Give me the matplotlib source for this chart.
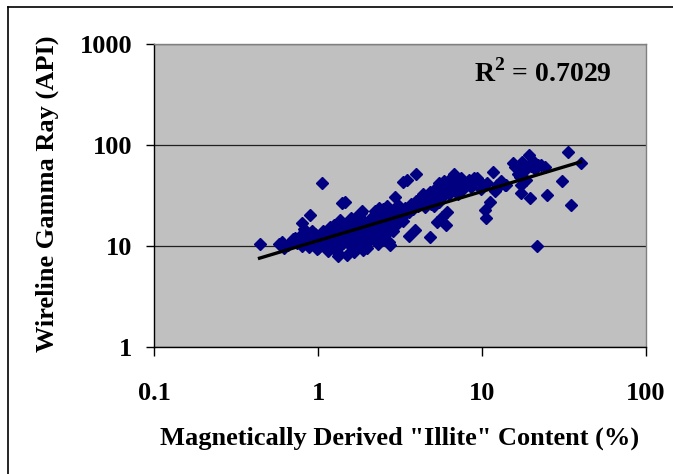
import numpy as np
import matplotlib
matplotlib.use("Agg")
import matplotlib.pyplot as plt
from matplotlib.lines import Line2D

plt.rcParams['font.family'] = ['Liberation Serif', 'DejaVu Serif']
plt.rcParams['mathtext.fontset'] = 'custom'
plt.rcParams['mathtext.rm'] = 'Liberation Serif:bold'
plt.rcParams['mathtext.bf'] = 'Liberation Serif:bold'

# ---- data ----
illite_low = [0.44, 0.58, 0.60, 0.60, 0.62, 0.66, 0.70, 0.72, 0.74, 0.76, 0.78, 0.80, 0.80,
              0.82, 0.84, 0.86, 0.88, 0.89, 0.90, 0.92, 0.94, 0.96, 0.98, 0.99, 1.06]
gr_low = [10.4, 10.5, 11.0, 10.8, 9.6, 10.2, 11.8, 11.9, 10.8, 11.4, 12.6, 16.8, 10.0,
          14.8, 13.5, 11.2, 9.8, 20.3, 12.5, 14.0, 10.6, 13.2, 9.4, 11.8, 42.4]

illite_b = [1.00, 1.02, 1.05, 1.08, 1.10, 1.12, 1.15, 1.18, 1.20, 1.22, 1.25, 1.28, 1.30,
            1.32, 1.35, 1.38, 1.40, 1.42, 1.45, 1.48, 1.50, 1.52, 1.55, 1.58, 1.60, 1.62,
            1.65, 1.68, 1.70, 1.72, 1.75, 1.78, 1.80, 1.82, 1.85, 1.88, 1.90, 1.92, 1.95,
            1.98, 1.33, 1.40, 1.47, 1.36, 1.20, 1.15, 1.25, 1.10, 1.55, 1.65, 1.70, 1.75,
            1.85, 1.60, 1.90, 1.95, 1.50, 1.30, 1.05, 1.12, 1.22, 1.38, 1.44, 1.58, 1.66,
            1.78, 1.88, 1.02, 1.28, 1.52]
gr_b = [9.5, 12.0, 10.5, 14.0, 11.0, 13.0, 9.0, 15.5, 12.5, 10.0, 16.0, 11.5, 13.5,
        8.5, 12.0, 17.0, 14.5, 10.8, 11.8, 13.0, 8.2, 15.0, 12.2, 18.0, 14.0, 9.8,
        16.5, 11.0, 19.5, 13.2, 10.2, 15.8, 12.8, 21.0, 14.2, 9.2, 17.5, 13.8, 11.2,
        16.2, 8.0, 26.5, 27.5, 18.1, 15.0, 13.8, 11.5, 9.8, 10.5, 8.8, 9.5, 20.0,
        22.0, 19.0, 11.0, 14.5, 12.8, 16.5, 13.0, 11.0, 12.2, 10.2, 15.0, 11.2, 13.0,
        12.0, 15.5, 11.5, 9.4, 14.2]

illite_c = [2.00, 2.02, 2.05, 2.08, 2.10, 2.12, 2.15, 2.18, 2.20, 2.22, 2.25, 2.28, 2.30,
            2.32, 2.35, 2.38, 2.40, 2.42, 2.45, 2.48, 2.50, 2.52, 2.55, 2.58, 2.60, 2.62,
            2.65, 2.68, 2.70, 2.72, 2.75, 2.78, 2.80, 2.85, 2.90, 2.95, 2.95, 3.00, 3.05,
            3.10, 3.15, 3.20, 3.30, 3.30, 3.40, 3.45, 2.05, 2.15, 2.25, 2.35, 2.45, 2.55,
            2.65, 2.20, 2.40, 2.60]
gr_c = [9.5, 13.0, 16.0, 11.5, 18.5, 14.0, 20.0, 12.0, 15.5, 22.0, 17.0, 13.5, 19.0,
        10.5, 24.0, 16.5, 14.5, 21.0, 12.5, 18.0, 23.0, 15.0, 17.5, 20.0, 13.0, 25.0,
        16.0, 19.0, 11.0, 22.0, 10.2, 17.0, 20.5, 14.0, 23.5, 30.8, 18.0, 21.0, 16.5,
        25.0, 19.5, 22.5, 43.0, 17.5, 24.0, 21.0, 14.5, 17.0, 15.0, 13.0, 16.0, 14.0,
        18.0, 12.0, 19.5, 16.5]

illite_d = [3.47, 3.60, 3.60, 3.70, 3.80, 3.90, 3.96, 3.96, 4.10, 4.20, 4.30, 4.39, 4.50,
            4.60, 4.70, 4.80, 4.80, 4.90, 5.00, 5.10, 5.20, 5.30, 5.30, 5.40, 5.50, 5.60,
            5.70, 5.70, 5.80, 5.90, 6.00, 6.00, 6.10, 6.20, 6.30, 6.40, 6.50, 6.68, 6.75,
            6.80, 7.00, 7.20, 7.40, 7.60, 7.80, 8.00, 8.30, 8.60, 8.80, 9.00, 9.30, 9.50,
            9.80, 10.0, 4.90, 5.50, 6.30, 7.10, 7.70, 8.40, 4.40, 5.10]
gr_d = [45.0, 12.6, 21.8, 26.0, 23.5, 14.4, 51.6, 28.0, 25.0, 30.0, 27.0, 33.0, 24.5,
        31.0, 28.5, 12.2, 34.0, 26.0, 30.0, 36.0, 29.0, 17.4, 33.0, 38.0, 27.0, 35.0,
        19.5, 40.0, 31.0, 44.0, 16.1, 37.0, 21.8, 42.0, 33.0, 46.0, 38.0, 41.7, 51.6,
        35.0, 44.0, 39.0, 47.0, 36.0, 42.0, 40.0, 45.0, 38.0, 43.0, 47.0, 46.8, 45.0,
        37.0, 41.0, 32.0, 42.0, 40.0, 33.0, 38.0, 41.0, 28.0, 25.0]

illite_e = [10.4, 10.6, 10.8, 11.2, 11.7, 12.5, 14.0, 15.4, 16.0, 17.0, 17.3, 18.0, 19.4,
            19.6, 20.0, 20.5, 21.0, 21.6, 22.0, 24.8, 30.9, 33.3, 34.8, 40.0, 12.0, 13.0,
            16.5, 18.5, 23.0, 17.5, 24.2, 17.4, 12.3, 13.8]
gr_e = [22.7, 18.8, 42.4, 27.5, 54.4, 38.6, 40.2, 66.8, 60.0, 48.0, 33.7, 55.0, 79.0,
        29.7, 62.0, 70.0, 58.0, 10.1, 64.0, 31.8, 43.7, 85.3, 25.3, 66.8, 35.0, 44.0,
        52.0, 45.0, 63.0, 68.0, 60.0, 40.0, 40.0, 40.0]

illite = illite_low + illite_b + illite_c + illite_d + illite_e
gamma_ray = gr_low + gr_b + gr_c + gr_d + gr_e

# power-law trend: GR = a * illite^b
trend_a = 11.3
trend_b = 0.487
r_squared = "0.7029"

x_ticks = [0.1, 1, 10, 100]
x_tick_labels = ["0.1", "1", "10", "100"]
y_ticks = [1, 10, 100, 1000]
y_tick_labels = ["1", "10", "100", "1000"]

# ---- figure ----
W, H = 673, 474
fig = plt.figure(figsize=(W / 100, H / 100), dpi=100)
ax = fig.add_axes([154 / W, 1 - 347 / H, (646 - 154) / W, (347 - 44) / H])
ax.set_facecolor('#C0C0C0')
ax.set_xscale('log')
ax.set_yscale('log')
ax.set_xlim(0.1, 100)
ax.set_ylim(1, 1000)

ax.yaxis.grid(True, which='major', color='#202020', linewidth=0.9)
ax.set_axisbelow(True)

ax.plot(illite, gamma_ray, linestyle='none', marker='D', markersize=6.3,
        markerfacecolor='#000080', markeredgecolor='#000080', zorder=3)

xt = np.array([min(illite), max(illite)])
ax.plot(xt, trend_a * xt ** trend_b, color='black', linewidth=2.4, zorder=4)

ax.set_xticks(x_ticks)
ax.set_xticklabels(x_tick_labels)
ax.set_yticks(y_ticks)
ax.set_yticklabels(y_tick_labels)
ax.minorticks_off()
ax.tick_params(axis='x', direction='out', length=6.5, width=1, pad=19, labelsize=19)
ax.tick_params(axis='y', direction='out', length=5.5, width=1, pad=10, labelsize=19)
for lbl in ax.get_xticklabels() + ax.get_yticklabels():
    lbl.set_fontweight('bold')

for s in ['left', 'bottom']:
    ax.spines[s].set_color('black')
    ax.spines[s].set_linewidth(1)
for s in ['top', 'right']:
    ax.spines[s].set_color('#808080')
    ax.spines[s].set_linewidth(1)

ax.text(0.65, 0.875, r'R$^{\mathbf{2}}$ = ' + r_squared, transform=ax.transAxes,
        fontsize=20, fontweight='bold', ha='left', va='baseline')

fig.text(400 / W, 1 - 438 / H, 'Magnetically Derived "Illite" Content (%)',
         fontsize=19, fontweight='bold', ha='center', va='center')

fig.text(47 / W, 1 - 352 / H, 'Wireline Gamma Ray (API)', rotation=90,
         fontsize=19, fontweight='bold', ha='center', va='bottom')

# outer frame (top and left edges visible)
fig.add_artist(Line2D([8 / W, 1.0], [1 - 7 / H, 1 - 7 / H], transform=fig.transFigure,
                      color='black', linewidth=1.2))
fig.add_artist(Line2D([8 / W, 8 / W], [1 - 7 / H, 0.0], transform=fig.transFigure,
                      color='black', linewidth=1.2))

fig.savefig('out.png', dpi=100)
